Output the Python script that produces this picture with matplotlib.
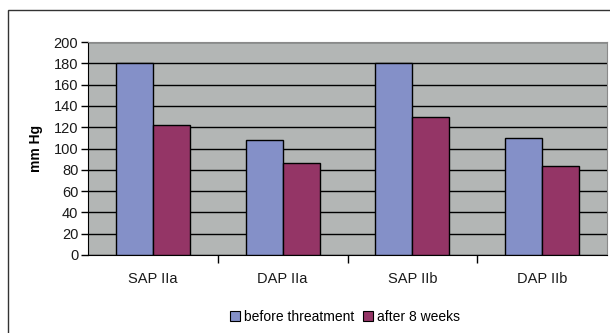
import matplotlib.pyplot as plt
import numpy as np
from matplotlib.patches import Rectangle

plt.rcParams['font.family'] = ['Liberation Sans', 'DejaVu Sans']

categories = ["SAP IIa", "DAP IIa", "SAP IIb", "DAP IIb"]
before = [180, 108, 180, 110]
after = [122, 86, 130, 84]
series_names = ["before threatment", "after 8 weeks"]

blue = "#8490c8"
plum = "#943566"

fig = plt.figure(figsize=(6.1, 3.33), dpi=100)

# outer chart frame (top and left edges visible)
fig.patches.append(Rectangle((8 / 610, -0.1), 1.2, (333 - 10) / 333 + 0.1,
                             transform=fig.transFigure, fill=False,
                             edgecolor="#333333", linewidth=1.0))

ax = fig.add_axes([88 / 610, (333 - 255) / 333, (607 - 88) / 610, (255 - 42) / 333])
ax.set_facecolor("#b3b6b5")

x = np.arange(len(categories))
w = 1 / 3.5
ax.bar(x - w / 2, before, w, color=blue, edgecolor="black", linewidth=1.0,
       label=series_names[0], zorder=3)
ax.bar(x + w / 2, after, w, color=plum, edgecolor="black", linewidth=1.0,
       label=series_names[1], zorder=3)

ax.set_xlim(-0.5, len(categories) - 0.5)
ax.set_ylim(0, 200)
ax.set_yticks(range(0, 201, 20))
ax.yaxis.grid(True, color="black", linewidth=1.0, zorder=1)
ax.set_axisbelow(True)

ax.set_xticks(x)
ax.set_xticklabels(categories, fontsize=10.5, color="#1a1a1a")
ax.tick_params(axis="x", length=0, pad=12)
ax.set_xticks(np.arange(0.5, len(categories) - 0.5, 1), minor=True)
ax.tick_params(axis="x", which="minor", length=6, width=1, direction="out")
ax.tick_params(axis="y", labelsize=10.5, length=5, width=1, direction="out",
               labelcolor="#1a1a1a", pad=2)

for side in ("top", "right"):
    ax.spines[side].set_color("#8a8a8a")
for side in ("left", "bottom"):
    ax.spines[side].set_color("black")

ax.set_ylabel("mm Hg", fontsize=10, fontweight="bold", labelpad=8)

handles = [Rectangle((0, 0), 1, 1, facecolor=c, edgecolor="black", linewidth=0.8)
           for c in (blue, plum)]
fig.legend(handles, series_names, loc="center", bbox_to_anchor=(345 / 610, 1 - 317 / 333),
           ncol=2, frameon=False, fontsize=10, handlelength=0.7, handleheight=0.7,
           handletextpad=0.3, columnspacing=0.6)

fig.savefig("out.png", dpi=100)
